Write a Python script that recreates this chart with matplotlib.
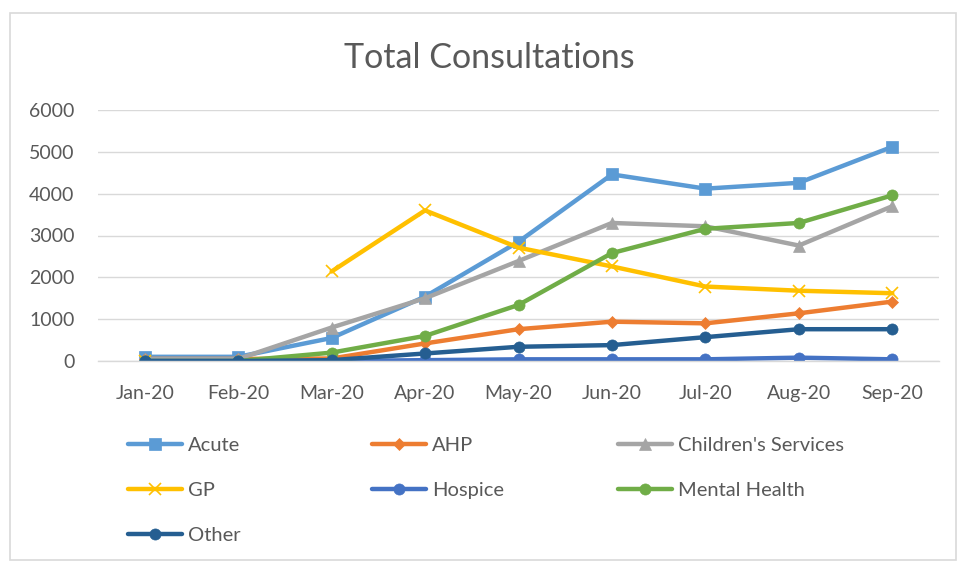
import numpy as np
import matplotlib
matplotlib.use("Agg")
import matplotlib.pyplot as plt
from matplotlib.patches import Rectangle

# data
months = ["Jan-20", "Feb-20", "Mar-20", "Apr-20", "May-20", "Jun-20", "Jul-20", "Aug-20", "Sep-20"]
acute = [100, 100, 550, 1540, 2850, 4460, 4120, 4260, 5120]
ahp = [50, 50, 60, 420, 760, 940, 900, 1140, 1420]
childrens = [50, 50, 800, 1500, 2390, 3300, 3220, 2760, 3700]
gp = [0, np.nan, 2140, 3600, 2710, 2260, 1780, 1680, 1620]
hospice = [0, 0, 0, 20, 40, 40, 40, 80, 40]
mental = [0, 0, 200, 600, 1340, 2580, 3160, 3300, 3960]
other = [0, 0, 20, 180, 340, 380, 570, 760, 760]

names = ["Acute", "AHP", "Children's Services", "GP", "Hospice", "Mental Health", "Other"]
series = [acute, ahp, childrens, gp, hospice, mental, other]
colors = ["#5B9BD5", "#ED7D31", "#A5A5A5", "#FFC000", "#4472C4", "#70AD47", "#255E91"]
markers = ["s", "D", "^", "x", "o", "o", "o"]
msizes = [8.5, 6, 8.5, 9, 8, 8, 8]

plt.rcParams['font.family'] = ['Lato', 'DejaVu Sans']
txt = "#595959"
grid = "#D9D9D9"

W, H = 957, 562
fig = plt.figure(figsize=(W / 100, H / 100), dpi=100)
ax = fig.add_axes([98 / W, (H - 361) / H, (939 - 98) / W, (361 - 110) / H])

x = np.arange(len(months))
lines = []
for name, vals, c, m, ms in zip(names, series, colors, markers, msizes):
    ln, = ax.plot(x, vals, color=c, lw=3.2, marker=m, markersize=ms,
                  markeredgewidth=1.2 if m == "x" else 0.5, label=name,
                  solid_capstyle="round", solid_joinstyle="round")
    lines.append(ln)

ax.set_xlim(-0.5, len(months) - 0.5)
ax.set_ylim(0, 6000)
ax.set_yticks(np.arange(0, 6001, 1000))
ax.set_xticks(x)
ax.set_xticklabels(months)
ax.yaxis.grid(True, color=grid, lw=1)
ax.set_axisbelow(True)
for s in ["left", "right", "top"]:
    ax.spines[s].set_visible(False)
ax.spines["bottom"].set_color(grid)
ax.spines["bottom"].set_linewidth(1)
ax.tick_params(axis="both", length=0, labelsize=14, labelcolor=txt)
ax.tick_params(axis="y", pad=17)
ax.tick_params(axis="x", pad=17)

fig.text(489 / W, 1 - 58 / H, "Total Consultations", ha="center", va="center",
         fontsize=24.5, color=txt)

# legend: three equal-width columns like Excel
cols = [[0, 3, 6], [1, 4], [2, 5]]
col_x = [128, 372, 618]
for cx, idx in zip(col_x, cols):
    leg = fig.legend([lines[i] for i in idx], [names[i] for i in idx],
                     loc="upper left", bbox_to_anchor=(cx / W, 1 - 437 / H),
                     frameon=False, fontsize=14.5, handlelength=2.7,
                     handletextpad=0.3, labelspacing=1.39, borderaxespad=0,
                     borderpad=0)
    for t in leg.get_texts():
        t.set_color(txt)

fig.add_artist(Rectangle((10 / W, 2 / H), (W - 11) / W, (H - 15) / H,
                         transform=fig.transFigure, fill=False,
                         edgecolor=grid, lw=1.2))

fig.savefig("out.png", dpi=100)
